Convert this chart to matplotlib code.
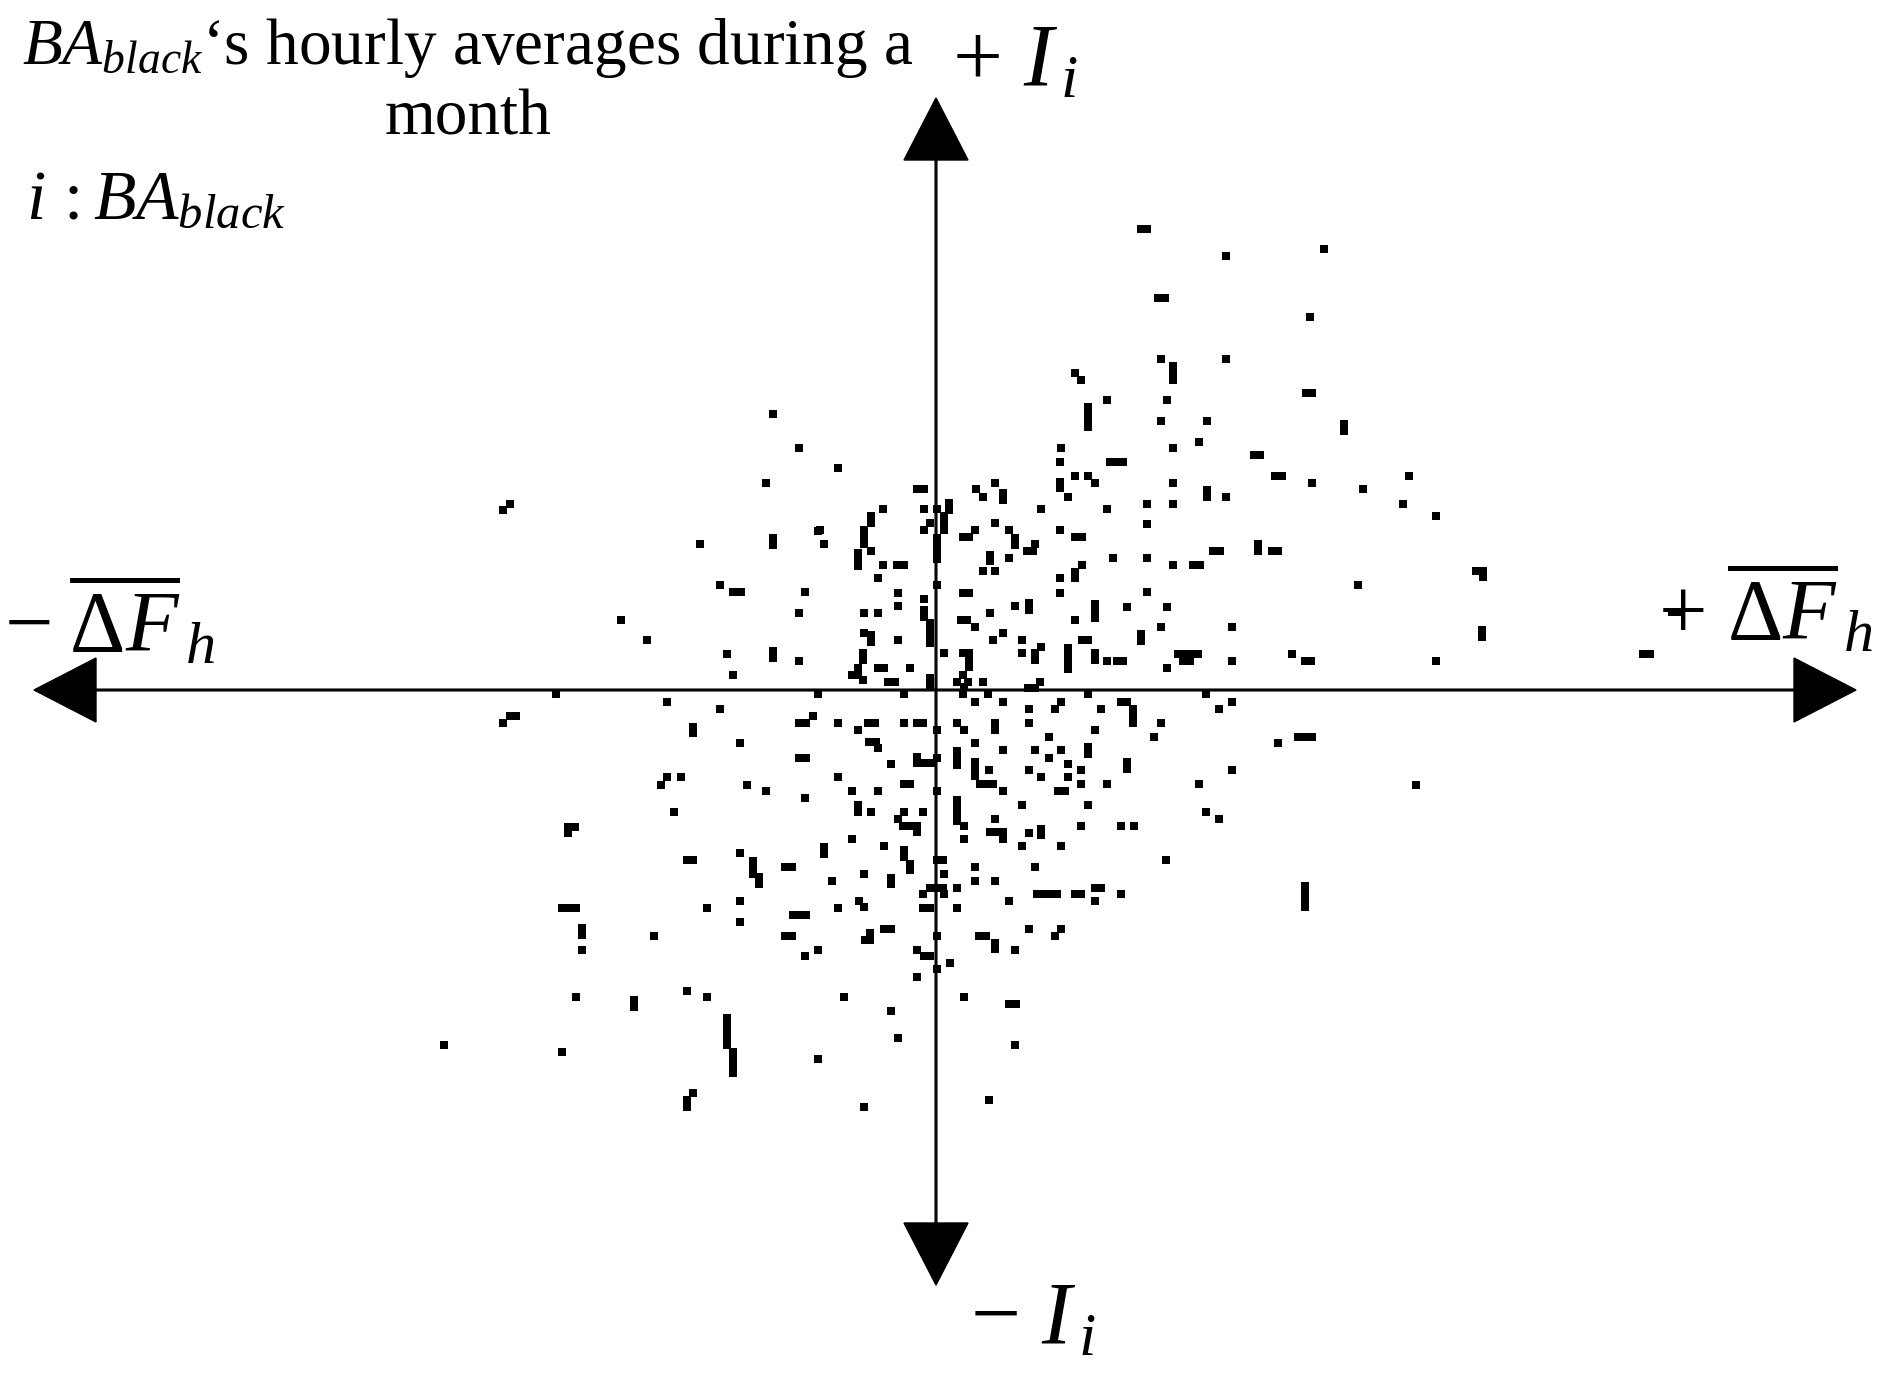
import matplotlib
matplotlib.use('Agg')
import matplotlib.pyplot as plt

plt.rcParams['font.family'] = 'Liberation Serif'
plt.rcParams['mathtext.fontset'] = 'custom'
plt.rcParams['mathtext.rm'] = 'Liberation Serif'
plt.rcParams['mathtext.it'] = 'Liberation Serif:italic'
plt.rcParams['mathtext.bf'] = 'Liberation Serif:bold'

# hourly averages, (dF_h, I_i) pairs per quadrant (arbitrary units)
upper_right = [
    (205, 461), (211, 461), (290, 434), (222, 392), (229, 392), (374, 373), (225, 331), (290, 331),
    (237, 324), (237, 317), (237, 310), (139, 317), (145, 310), (171, 290), (231, 290), (152, 283),
    (152, 276), (152, 269), (152, 263), (370, 297), (376, 297), (225, 269), (271, 269), (263, 248),
    (237, 242), (125, 242), (174, 228), (181, 228), (187, 228), (318, 235), (324, 235), (339, 214),
    (346, 214), (376, 207), (237, 207), (271, 200), (271, 193), (290, 193), (237, 186), (211, 186),
    (211, 166), (237, 125), (257, 125), (264, 125), (277, 139), (284, 139), (322, 146), (322, 139),
    (336, 139), (342, 139), (211, 132), (211, 98), (231, 83), (225, 63), (296, 63), (205, 56),
    (205, 49), (242, 36), (249, 36), (256, 36), (262, 36), (247, 29), (254, 29), (296, 29),
    (356, 36), (369, 29), (375, 29), (231, 22), (191, 83), (181, 29), (187, 29),
    (388, 441), (408, 266), (408, 259), (473, 214), (427, 201), (467, 186), (500, 174), (540, 119),
    (547, 119), (547, 113), (422, 105), (736, 78), (743, 78), (546, 60), (546, 53), (707, 36),
    (714, 36), (500, 29),
    (59, 207), (40, 201), (47, 193), (67, 197), (67, 190), (124, 228), (124, 208), (124, 202),
    (132, 193), (139, 214), (152, 214), (159, 207), (1, 181), (13, 187), (13, 180), (8, 174),
    (8, 167), (8, 160), (105, 181), (171, 181), (1, 152), (1, 145), (1, 138), (1, 131),
    (27, 153), (33, 153), (39, 160), (59, 167), (73, 160), (79, 152), (79, 145), (91, 139),
    (97, 139), (99, 146), (124, 160), (139, 153), (146, 153), (177, 132), (54, 135), (54, 129),
    (47, 119), (59, 119), (73, 132), (146, 125), (139, 118), (139, 112), (124, 112), (124, 97),
    (1, 105), (27, 97), (33, 97), (25, 70), (31, 70), (39, 63), (54, 77), (79, 84),
    (93, 87), (93, 80), (139, 70), (159, 86), (159, 79), (159, 72), (8, 37), (27, 37),
    (33, 37), (33, 30), (33, 23), (27, 15), (21, 8), (32, 8), (28, 3), (47, 8),
    (57, 50), (67, 57), (86, 50), (86, 37), (99, 37), (99, 30), (105, 43), (132, 42),
    (132, 35), (132, 28), (132, 21), (146, 50), (152, 50), (159, 37), (159, 30), (171, 29),
    (104, 8), (92, 2), (99, 2),
]

upper_left = [
    (-163, 276), (-137, 242), (-170, 207), (-426, 186), (-433, 180), (-236, 146), (-163, 152),
    (-163, 145), (-118, 159), (-216, 105), (-203, 98), (-195, 98), (-131, 98), (-315, 70),
    (-137, 77), (-289, 50), (-209, 36), (-163, 39), (-163, 32), (-137, 29), (-203, 15),
    (-98, 222), (-19, 201), (-12, 201), (-53, 181), (-65, 174), (-65, 167), (-12, 181), (-6, 167),
    (-12, 160), (-116, 160), (-112, 146), (-72, 160), (-72, 153), (-72, 146), (-78, 137), (-78, 130),
    (-78, 124), (-65, 139), (-53, 125), (-39, 125), (-32, 125), (-58, 112), (-38, 97), (-12, 91),
    (-38, 84), (-72, 77), (-58, 77), (-12, 80), (-12, 73), (-6, 67), (-6, 60), (-6, 53),
    (-6, 47), (-72, 57), (-65, 55), (-65, 48), (-38, 50), (-73, 37), (-73, 30), (-78, 22),
    (-78, 15), (-84, 15), (-73, 10), (-58, 22), (-52, 22), (-48, 8), (-41, 8), (-26, 22),
    (-6, 12), (-6, 5),
]

lower_left = [
    (-380, -4), (-269, -12), (-216, -19), (-118, -4), (-426, -26), (-420, -26), (-433, -33),
    (-243, -37), (-243, -43), (-137, -33), (-130, -33), (-123, -26), (-98, -33), (-78, -40),
    (-68, -33), (-196, -53), (-137, -68), (-130, -68), (-67, -52), (-269, -87), (-275, -95),
    (-255, -87), (-189, -95), (-170, -101), (-131, -108), (-98, -87), (-84, -101), (-78, -115),
    (-78, -122), (-65, -122), (-262, -122), (-368, -137), (-361, -137), (-368, -143), (-84, -149),
    (-112, -157), (-112, -164), (-196, -163), (-249, -170), (-243, -170), (-183, -171), (-183, -178),
    (-183, -184), (-177, -187), (-177, -194), (-151, -177), (-144, -177), (-72, -184), (-104, -191),
    (-196, -211), (-77, -211), (-72, -217), (-98, -218), (-229, -218), (-374, -218), (-367, -218),
    (-360, -218), (-196, -232), (-143, -225), (-136, -225), (-130, -225), (-151, -246), (-144, -246),
    (-66, -243), (-66, -250), (-71, -250), (-354, -238), (-354, -245), (-354, -260), (-282, -246),
    (-131, -266), (-118, -260), (-360, -307), (-302, -310), (-302, -317), (-249, -301), (-229, -307),
    (-92, -307), (-209, -328), (-209, -334), (-209, -341), (-209, -348), (-209, -355), (-203, -362),
    (-203, -369), (-203, -376), (-203, -383), (-492, -355), (-374, -362), (-118, -369), (-243, -403),
    (-249, -410), (-249, -417), (-72, -417),
    (-32, -4), (-61, -33), (-32, -33), (-19, -33), (-13, -33), (-60, -52), (-58, -58), (-19, -67),
    (-19, -73), (-11, -73), (-4, -73), (-45, -74), (-32, -94), (-26, -94), (-58, -101), (-32, -122),
    (-38, -129), (-33, -136), (-26, -136), (-19, -136), (-19, -142), (-13, -122), (-52, -156),
    (-32, -160), (-32, -167), (-26, -174), (-26, -180), (-45, -188), (-45, -194), (-6, -198),
    (-13, -204), (-13, -218), (-6, -218), (-52, -239), (-45, -239), (-19, -260), (-12, -266),
    (-6, -266), (-19, -287), (-45, -321), (-38, -348),
]

lower_right = [
    (376, -47), (480, -95),
    (27, -4), (52, -4), (152, -4), (270, -4), (39, -12), (67, -12), (93, -19), (119, -19),
    (125, -12), (165, -19), (185, -12), (191, -12), (197, -19), (197, -26), (197, -33), (283, -19),
    (296, -12), (1, -40), (21, -33), (28, -40), (59, -33), (59, -40), (93, -33), (159, -40),
    (225, -33), (113, -47), (218, -47), (342, -53), (362, -47), (369, -47), (39, -53), (67, -60),
    (99, -60), (125, -60), (152, -57), (152, -64), (113, -68), (1, -68), (21, -61), (21, -68),
    (21, -75), (39, -72), (39, -79), (39, -86), (44, -94), (51, -94), (57, -94), (53, -80),
    (93, -80), (105, -87), (132, -74), (132, -87), (145, -80), (191, -72), (191, -79), (296, -80),
    (145, -94), (171, -94), (263, -94), (1, -101), (67, -101), (122, -101), (129, -101), (86, -115),
    (152, -115), (21, -110), (21, -117), (21, -124), (21, -131), (28, -136), (59, -129), (54, -142),
    (61, -142), (67, -142), (67, -149), (93, -143), (105, -139), (105, -145), (145, -136), (185, -136),
    (198, -136), (270, -122), (283, -129), (28, -149), (86, -156), (125, -156), (1, -170), (7, -170),
    (230, -170), (39, -177), (99, -177), (8, -184), (39, -191), (59, -191), (1, -198), (7, -198),
    (8, -204), (21, -198), (101, -204), (107, -204), (114, -204), (121, -204), (139, -204), (145, -204),
    (159, -198), (165, -198), (159, -211), (185, -204), (73, -211), (369, -196), (369, -203), (369, -210),
    (369, -217), (21, -218), (1, -246), (93, -239), (125, -239), (119, -246), (43, -246), (50, -246),
    (59, -253), (59, -259), (79, -260), (14, -273), (1, -279), (28, -307), (73, -314), (80, -314),
    (79, -355), (53, -410),
]

points = upper_right + upper_left + lower_left + lower_right
dF = [p[0] for p in points]
Ii = [p[1] for p in points]

fig = plt.figure(figsize=(18.83, 13.76), dpi=100)
ax = fig.add_axes([0, 0, 1, 1])
ax.set_xlim(-936, 947)
ax.set_ylim(-686, 690)
ax.axis('off')

# axes with arrow heads
arrow_kw = dict(width=1.7, head_width=64, head_length=62, length_includes_head=True,
                color='black', zorder=1)
ax.arrow(0, 0, -902, 0, **arrow_kw)
ax.arrow(0, 0, 920, 0, **arrow_kw)
ax.arrow(0, 0, 0, 592, **arrow_kw)
ax.arrow(0, 0, 0, -595, **arrow_kw)

ax.scatter(dF, Ii, marker='s', s=34, c='black', linewidths=0, zorder=2)

ax.text(-468, 608, "$BA_{black}$\u2018s hourly averages during a\nmonth",
        fontsize=47, ha='center', va='center', linespacing=1.2)
ax.text(-910, 488, "$i\\,:BA_{black}$", fontsize=50, ha='left', va='center')
ax.text(16, 626, r"$+\ I_{\,i}$", fontsize=64, ha='left', va='center')
ax.text(34, -632, r"$-\ I_{\,i}$", fontsize=64, ha='left', va='center')
ax.text(-932, 66, r"$-\;\overline{\Delta F}_{\,h}$", fontsize=62, ha='left', va='center')
ax.text(722, 78, r"$+\ \overline{\Delta F}_{\,h}$", fontsize=62, ha='left', va='center')

plt.savefig('out.png', dpi=100)
